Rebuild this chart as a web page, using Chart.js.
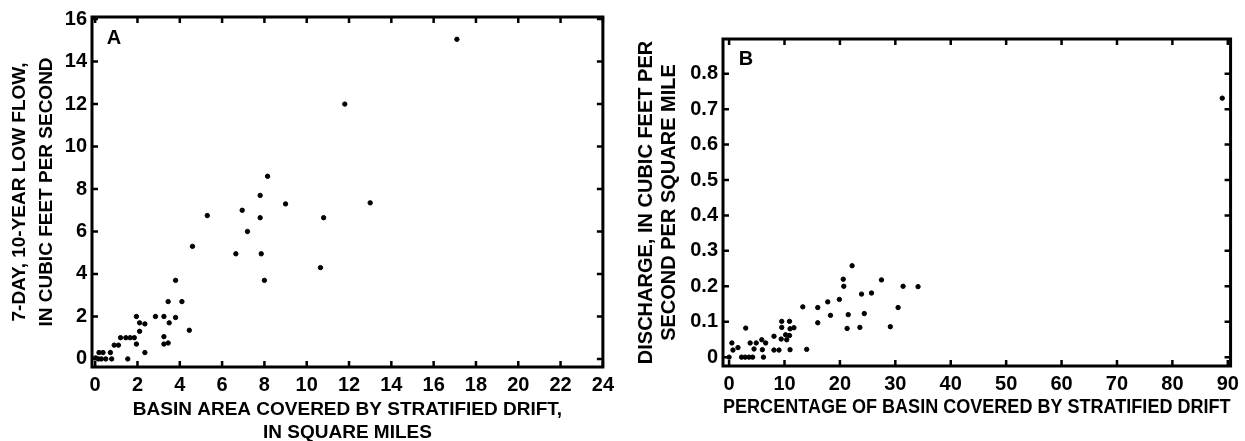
<!DOCTYPE html>
<html>
<head>
<meta charset="utf-8">
<script src="https://cdn.jsdelivr.net/npm/chart.js@4.4.1/dist/chart.umd.min.js"></script>
<style>
  html, body { margin: 0; padding: 0; background: #fff; overflow: hidden; width: 1245px; height: 441px; }
  .panel { position: absolute; top: 0; height: 446px; }
  #boxA { left: 0; width: 620px; }
  #boxB { left: 630px; width: 615px; }
</style>
</head>
<body>
<div class="panel" id="boxA"><canvas id="chartA"></canvas></div>
<div class="panel" id="boxB"><canvas id="chartB"></canvas></div>
<script>
document.addEventListener("DOMContentLoaded", function () {

// panel A: basin area covered by stratified drift (sq mi) vs 7Q10 low flow (ft3/s)
const areaA = [17.1, 11.8, 8.15, 7.8, 9.0, 13.0, 5.3, 6.95, 7.8, 10.8, 7.2, 4.6, 6.65, 7.85, 10.65,
  3.8, 8.0, 3.45, 4.1, 1.95, 2.85, 3.25, 3.8, 2.1, 2.35, 3.5, 4.45, 2.1,
  1.2, 1.45, 1.65, 1.85, 3.25, 0.9, 1.1, 1.95, 3.25, 3.45, 2.35, 0.72,
  0.18, 0.37, 1.54, 0.15, 0.29, 0.5, 0.78, 0.02];
const flowA = [15.05, 12.0, 8.6, 7.7, 7.3, 7.35, 6.75, 7.0, 6.65, 6.65, 6.0, 5.3, 4.95, 4.95, 4.3,
  3.7, 3.7, 2.7, 2.7, 2.0, 2.0, 2.0, 1.95, 1.7, 1.65, 1.7, 1.35, 1.3,
  1.0, 1.0, 1.0, 1.0, 1.05, 0.65, 0.65, 0.7, 0.7, 0.75, 0.3, 0.3,
  0.3, 0.3, 0.0, 0.0, 0.0, 0.0, 0.0, 0.05];
const xTicksA = [0, 2, 4, 6, 8, 10, 12, 14, 16, 18, 20, 22, 24];
const yTicksA = [0, 2, 4, 6, 8, 10, 12, 14, 16];

// panel B: percentage of basin covered by stratified drift vs discharge (ft3/s/mi2)
const pctB = [0.5, 0.7, 1.6, 3.0, 2.25, 2.9, 3.6, 4.25, 3.8, 4.9, 4.5, 5.9, 6.6, 6.0, 6.2,
  8.1, 8.1, 9.0, 9.5, 9.5, 9.4, 10.2, 10.4, 10.9, 10.9, 11.0, 11.7, 11.0,
  13.3, 14.0, 16.0, 16.0, 17.8, 18.3, 19.9, 20.6, 20.7, 21.5, 21.3, 22.2,
  23.9, 24.4, 23.6, 25.7, 27.5, 29.1, 30.5, 31.4, 34.1, 89.0, 0.0];
const dischB = [0.04, 0.02, 0.027, 0.082, 0.0, 0.0, 0.0, 0.0, 0.04, 0.04, 0.023, 0.049, 0.04, 0.021, 0.0,
  0.059, 0.02, 0.02, 0.101, 0.084, 0.051, 0.063, 0.049, 0.101, 0.061, 0.08, 0.083, 0.021,
  0.142, 0.022, 0.14, 0.097, 0.156, 0.118, 0.163, 0.22, 0.2, 0.12, 0.081, 0.258,
  0.178, 0.123, 0.084, 0.181, 0.218, 0.086, 0.14, 0.2, 0.199, 0.731, 0.0];
const xTicksB = [0, 10, 20, 30, 40, 50, 60, 70, 80, 90];
const yTicksB = [0, 0.1, 0.2, 0.3, 0.4, 0.5, 0.6, 0.7, 0.8];

const FONT = "'Liberation Sans', Arial, Helvetica, sans-serif";

// frame + inward tick marks + panel letter
const framePlugin = {
  id: 'frame',
  afterDraw(chart, args, opts) {
    const ctx = chart.ctx;
    const a = chart.chartArea;
    const xs = chart.scales.x, ys = chart.scales.y;
    ctx.save();
    ctx.strokeStyle = '#000';
    ctx.lineWidth = 3;
    ctx.strokeRect(a.left, a.top, a.right - a.left, a.bottom - a.top);
    ctx.lineWidth = 2.5;
    const len = 6;
    ctx.beginPath();
    xs.ticks.forEach(t => {
      const px = xs.getPixelForValue(t.value);
      ctx.moveTo(px, a.bottom); ctx.lineTo(px, a.bottom - len);
      ctx.moveTo(px, a.top); ctx.lineTo(px, a.top + len);
    });
    ys.ticks.forEach(t => {
      const py = ys.getPixelForValue(t.value);
      ctx.moveTo(a.left, py); ctx.lineTo(a.left + len, py);
      ctx.moveTo(a.right, py); ctx.lineTo(a.right - len, py);
    });
    ctx.stroke();
    ctx.fillStyle = '#000';
    ctx.font = 'bold 20px ' + FONT;
    ctx.textAlign = 'center';
    ctx.textBaseline = 'middle';
    ctx.fillText(opts.letter, a.left + opts.dx, a.top + opts.dy);
    ctx.restore();
  }
};

function makeChart(id, xs, ys, cfg) {
  return new Chart(document.getElementById(id), {
    type: 'scatter',
    data: {
      datasets: [{
        data: xs.map((v, i) => ({ x: v, y: ys[i] })),
        backgroundColor: '#000',
        borderColor: '#000',
        pointRadius: 2.2,
        pointHoverRadius: 2.2
      }]
    },
    options: {
      responsive: true,
      maintainAspectRatio: false,
      animation: false,
      events: [],
      layout: { padding: cfg.padding },
      plugins: {
        legend: { display: false },
        tooltip: { enabled: false },
        frame: { letter: cfg.letter, dx: cfg.letterDx, dy: cfg.letterDy }
      },
      scales: {
        x: {
          type: 'linear',
          min: cfg.xMin, max: cfg.xMax,
          afterBuildTicks: s => { s.ticks = cfg.xTicks.map(v => ({ value: v })); },
          afterFit: s => { s.height = cfg.xHeight; },
          grid: { display: false, drawTicks: false },
          border: { display: false },
          ticks: {
            color: '#000', padding: 6, maxRotation: 0, autoSkip: false,
            font: { family: FONT, size: 20, weight: 'bold' },
            callback: v => String(v)
          },
          title: {
            display: true, text: cfg.xTitle, color: '#000',
            padding: cfg.xTitlePad,
            font: { family: FONT, size: cfg.titleSize, weight: 'bold', lineHeight: '23px' }
          }
        },
        y: {
          type: 'linear',
          min: cfg.yMin, max: cfg.yMax,
          afterBuildTicks: s => { s.ticks = cfg.yTicks.map(v => ({ value: v })); },
          afterFit: s => { s.width = cfg.yWidth; },
          grid: { display: false, drawTicks: false },
          border: { display: false },
          ticks: {
            color: '#000', padding: 5, autoSkip: false,
            font: { family: FONT, size: 20, weight: 'bold' },
            callback: v => String(v)
          },
          title: {
            display: true, text: cfg.yTitle, color: '#000',
            padding: cfg.yTitlePad,
            font: { family: FONT, size: cfg.titleSize, weight: 'bold', lineHeight: cfg.yTitleLh }
          }
        }
      }
    },
    plugins: [framePlugin]
  });
}

makeChart('chartA', areaA, flowA, {
  letter: 'A', letterDx: 22, letterDy: 21, titleSize: 19,
  padding: { left: 0, top: 16, right: 17, bottom: 0 },
  xMin: -0.15, xMax: 24, xTicks: xTicksA, xHeight: 79,
  yMin: -0.38, yMax: 16.1, yTicks: yTicksA, yWidth: 92,
  xTitle: ['BASIN AREA COVERED BY STRATIFIED DRIFT,', 'IN SQUARE MILES'],
  xTitlePad: { top: 0, bottom: 1.5 },
  yTitle: ['7-DAY, 10-YEAR LOW FLOW,', 'IN CUBIC FEET PER SECOND'],
  yTitlePad: { top: 6.5, bottom: 0 }, yTitleLh: '27px'
});

makeChart('chartB', pctB, dischB, {
  letter: 'B', letterDx: 23, letterDy: 20, titleSize: 20,
  padding: { left: 0, top: 39, right: 14, bottom: 0 },
  xMin: -1.1, xMax: 90.5, xTicks: xTicksB, xHeight: 80,
  yMin: -0.025, yMax: 0.898, yTicks: yTicksB, yWidth: 93,
  xTitle: 'PERCENTAGE OF BASIN COVERED BY STRATIFIED DRIFT',
  xTitlePad: { top: 0, bottom: 27 },
  yTitle: ['DISCHARGE, IN CUBIC FEET PER', 'SECOND PER SQUARE MILE'],
  yTitlePad: { top: 5, bottom: 0 }, yTitleLh: '23px'
});

});
</script>
</body>
</html>
